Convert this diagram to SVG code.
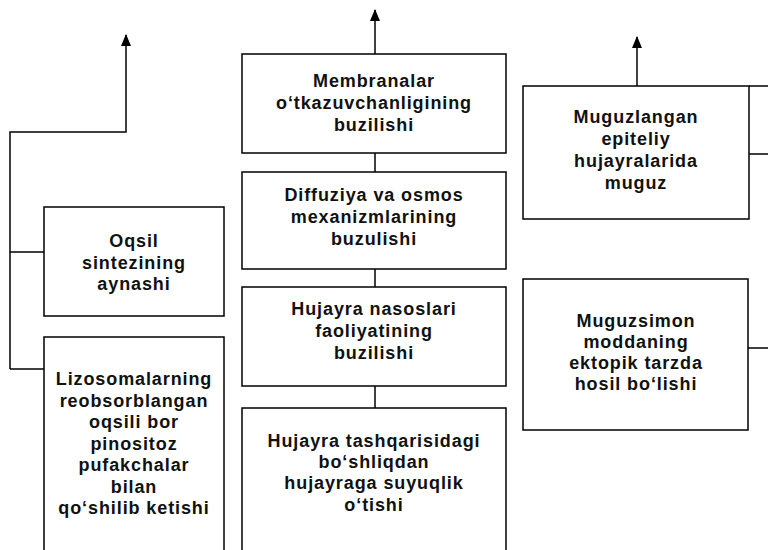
<svg xmlns="http://www.w3.org/2000/svg" width="768" height="550" viewBox="0 0 768 550">
<defs>
<marker id="ah" viewBox="0 0 12 10" refX="11" refY="5" markerWidth="12" markerHeight="10" markerUnits="userSpaceOnUse" orient="auto">
<path d="M0,0 L12,5 L0,10 Z" fill="#000"/>
</marker>
<style>
.box{fill:#fff;stroke:#000;stroke-width:1.5}
.ln{fill:none;stroke:#000;stroke-width:1.5}
text{font-family:"Liberation Sans",Arial,sans-serif;font-weight:bold;font-size:18px;letter-spacing:0.9px;text-anchor:middle;fill:#111}
</style>
</defs>
<rect width="768" height="550" fill="#fff"/>
<g id="connectors">
<path class="ln" d="M10,369 L10,132 L126,132 L126,35" marker-end="url(#ah)"/>
<line class="ln" x1="10" y1="252" x2="44" y2="252"/>
<line class="ln" x1="10" y1="369" x2="44" y2="369"/>
<line class="ln" x1="375" y1="54" x2="375" y2="10" marker-end="url(#ah)"/>
<line class="ln" x1="375" y1="153" x2="375" y2="172"/>
<line class="ln" x1="375" y1="269" x2="375" y2="287"/>
<line class="ln" x1="375" y1="386" x2="375" y2="408"/>
<line class="ln" x1="637" y1="86" x2="637" y2="37" marker-end="url(#ah)"/>
<line class="ln" x1="749" y1="86" x2="768" y2="86"/>
<line class="ln" x1="749" y1="154" x2="768" y2="154"/>
<line class="ln" x1="748" y1="348" x2="768" y2="348"/>
</g>
<g id="n-membranalar">
<rect class="box" x="242" y="54" width="264" height="99"/>
<text x="374" y="87">Membranalar</text>
<text x="374" y="109">o‘tkazuvchanligining</text>
<text x="374" y="131">buzilishi</text>
</g>
<g id="n-diffuziya">
<rect class="box" x="242" y="172" width="264" height="97"/>
<text x="374" y="201">Diffuziya va osmos</text>
<text x="374" y="223">mexanizmlarining</text>
<text x="374" y="245">buzulishi</text>
</g>
<g id="n-nasoslar">
<rect class="box" x="242" y="287" width="264" height="99"/>
<text x="374" y="315">Hujayra nasoslari</text>
<text x="374" y="337">faoliyatining</text>
<text x="374" y="359">buzilishi</text>
</g>
<g id="n-suyuqlik">
<rect class="box" x="242" y="408" width="264" height="160"/>
<text x="374" y="447">Hujayra tashqarisidagi</text>
<text x="374" y="468">bo‘shliqdan</text>
<text x="374" y="489">hujayraga suyuqlik</text>
<text x="374" y="511">o‘tishi</text>
</g>
<g id="n-oqsil">
<rect class="box" x="44" y="207" width="180" height="109"/>
<text x="134" y="247">Oqsil</text>
<text x="134" y="269">sintezining</text>
<text x="134" y="290">aynashi</text>
</g>
<g id="n-lizosoma">
<rect class="box" x="44" y="337" width="180" height="230"/>
<text x="134" y="385">Lizosomalarning</text>
<text x="134" y="407">reobsorblangan</text>
<text x="134" y="428">oqsili bor</text>
<text x="134" y="450">pinositoz</text>
<text x="134" y="471">pufakchalar</text>
<text x="134" y="493">bilan</text>
<text x="134" y="514">qo‘shilib ketishi</text>
</g>
<g id="n-muguzlangan">
<rect class="box" x="523" y="86" width="226" height="133"/>
<text x="636" y="123">Muguzlangan</text>
<text x="636" y="145">epiteliy</text>
<text x="636" y="167">hujayralarida</text>
<text x="636" y="189">muguz</text>
</g>
<g id="n-muguzsimon">
<rect class="box" x="523" y="279" width="225" height="151"/>
<text x="636" y="327">Muguzsimon</text>
<text x="636" y="348">moddaning</text>
<text x="636" y="369">ektopik tarzda</text>
<text x="636" y="390">hosil bo‘lishi</text>
</g>
</svg>
